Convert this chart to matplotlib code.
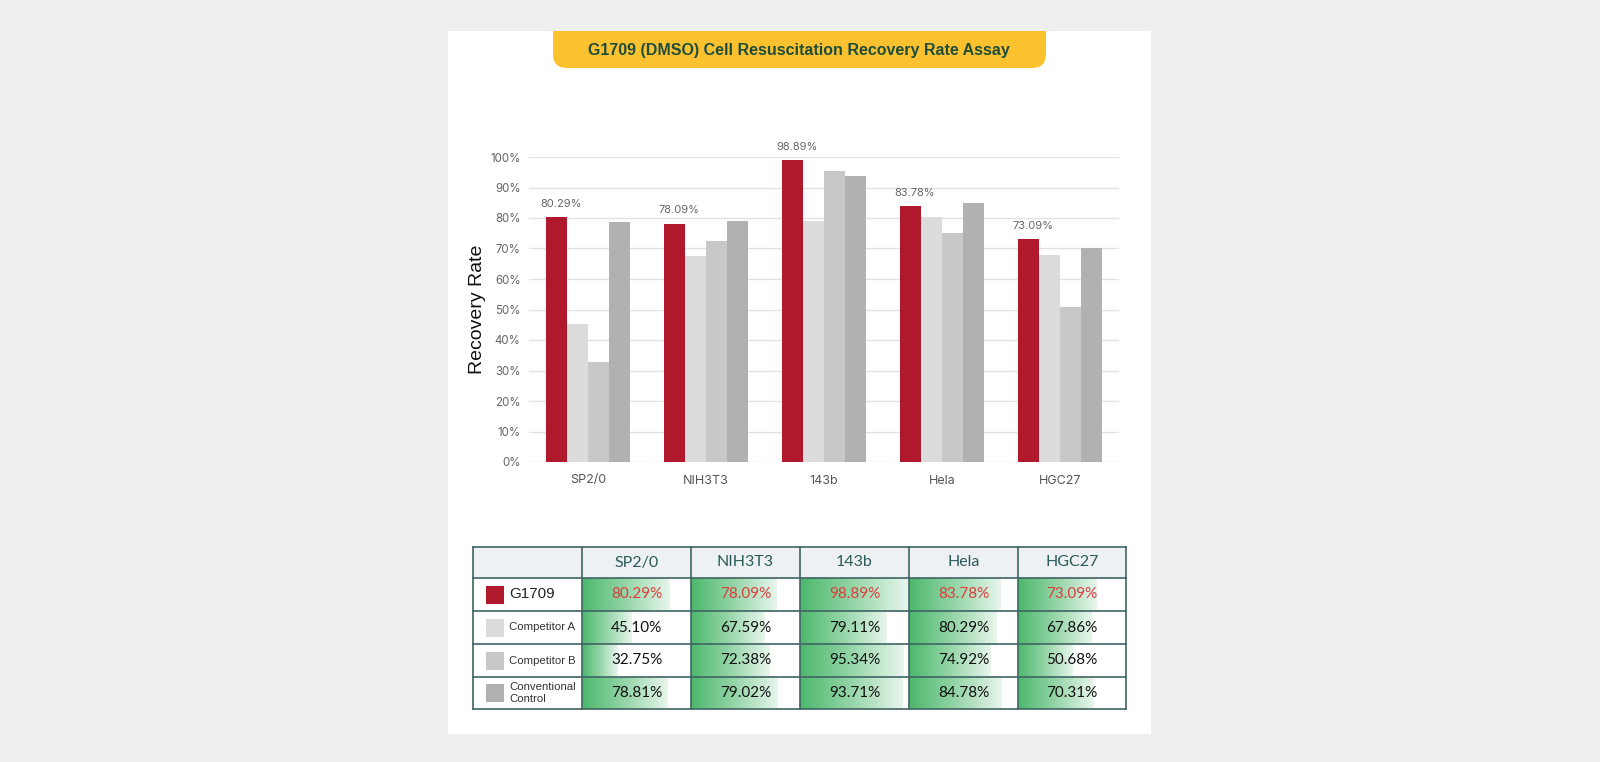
import numpy as np
import matplotlib.pyplot as plt
from matplotlib.patches import Rectangle, FancyBboxPatch
from matplotlib.colors import LinearSegmentedColormap

# data
cells = ['SP2/0', 'NIH3T3', '143b', 'Hela', 'HGC27']
series = ['G1709', 'Competitor A', 'Competitor B', 'Conventional\nControl']
g1709 = [80.29, 78.09, 98.89, 83.78, 73.09]
comp_a = [45.10, 67.59, 79.11, 80.29, 67.86]
comp_b = [32.75, 72.38, 95.34, 74.92, 50.68]
control = [78.81, 79.02, 93.71, 84.78, 70.31]
yticks = [0, 10, 20, 30, 40, 50, 60, 70, 80, 90, 100]
title = 'G1709 (DMSO) Cell Resuscitation Recovery Rate Assay'

colors = ['#b0182b', '#dcdcdc', '#c8c8c8', '#b1b1b1']
values = [g1709, comp_a, comp_b, control]

W, H = 1600, 762
fig = plt.figure(figsize=(16, 7.62), dpi=100, facecolor='#efefef')

# background axes in pixel coords
bg = fig.add_axes([0, 0, 1, 1])
bg.set_xlim(0, W)
bg.set_ylim(H, 0)
bg.axis('off')

panel = Rectangle((448, 31), 703, 703, facecolor='white', edgecolor='none')
bg.add_patch(panel)
banner = FancyBboxPatch((553, 5), 493, 63, boxstyle='round,pad=0,rounding_size=14',
                        facecolor='#fbc12e', edgecolor='none')
bg.add_patch(banner)
banner.set_clip_path(panel)
bg.text(799, 51, title, ha='center', va='center', fontsize=11.5, fontweight='bold',
        color='#1e4d3c', family='Liberation Sans')

# bar chart
ax = fig.add_axes([529 / W, 1 - 462 / H, 590 / W, 305 / H])
x = np.arange(len(cells))
bw = 0.18
for i, (vals, c) in enumerate(zip(values, colors)):
    ax.bar(x + (i - 1.5) * bw, vals, bw, color=c, zorder=2)
for xi, v in zip(x, g1709):
    ax.annotate(f'{v:.2f}%', (xi - 1.5 * bw + 0.04, v), xytext=(0, 6), textcoords='offset points',
                ha='center', va='bottom', fontsize=8, color='#666666', family='Inter')
ax.set_xlim(-0.5, len(cells) - 0.5)
ax.set_ylim(0, 100)
ax.set_yticks(yticks)
ax.set_yticklabels([f'{t}%' for t in yticks], family='Inter', fontsize=8.3, color='#666666')
ax.set_xticks(x)
ax.set_xticklabels(cells, family='Inter', fontsize=9, color='#555555')
ax.tick_params(length=0)
ax.tick_params(axis='y', pad=6)
ax.tick_params(axis='x', pad=9)
ax.grid(axis='y', color='#e2e2e2', lw=1, zorder=0)
for s in ax.spines.values():
    s.set_visible(False)
ax.set_ylabel('Recovery Rate', fontsize=14, family='Liberation Sans', color='#111111', labelpad=3)

# table
col_x = [473, 582, 691, 800, 909, 1018, 1126]
row_y = [547, 578, 611, 644, 677, 709]
border = '#3f6464'
cmap = LinearSegmentedColormap.from_list('g', [(0, '#4cb86c'), (0.5, '#95d5a8'), (1, '#e8f6ec')])
grad = np.linspace(0, 1, 256).reshape(1, -1)

bg.add_patch(Rectangle((col_x[0], row_y[0]), col_x[-1] - col_x[0], row_y[1] - row_y[0],
                       facecolor='#eef1f3', edgecolor='none'))
for j, name in enumerate(cells):
    bg.text((col_x[j + 1] + col_x[j + 2]) / 2, (row_y[0] + row_y[1]) / 2, name,
            ha='center', va='center', fontsize=11.5, color='#2b5a5a', family='Lato')

for i, (name, vals, c) in enumerate(zip(series, values, colors)):
    y0, y1 = row_y[i + 1], row_y[i + 2]
    ym = (y0 + y1) / 2
    bg.add_patch(Rectangle((486, ym - 9), 18, 18, facecolor=c, edgecolor='none'))
    if i == 0:
        bg.text(509, ym, name, ha='left', va='center', fontsize=11, color='#222222',
                family='Liberation Sans')
    else:
        bg.text(509, ym, name, ha='left', va='center', fontsize=8.2, color='#333333',
                family='Liberation Sans', linespacing=1.3)
    for j, v in enumerate(vals):
        cx0, cx1 = col_x[j + 1], col_x[j + 2]
        bx1 = cx0 + (cx1 - cx0) * v / 100
        bg.imshow(grad, cmap=cmap, aspect='auto', extent=[cx0, bx1, y1, y0],
                  interpolation='bilinear', zorder=1)
        bg.text((cx0 + cx1) / 2, ym, f'{v:.2f}%', ha='center', va='center', fontsize=11,
                color='#e03c3c' if i == 0 else '#111111', family='Lato', zorder=3)

for yy in row_y:
    bg.plot([col_x[0], col_x[-1]], [yy, yy], color=border, lw=1.2, zorder=4)
for xx in col_x:
    bg.plot([xx, xx], [row_y[0], row_y[-1]], color=border, lw=1.2, zorder=4)

bg.set_xlim(0, W)
bg.set_ylim(H, 0)

fig.savefig('out.png', dpi=100, facecolor=fig.get_facecolor())
